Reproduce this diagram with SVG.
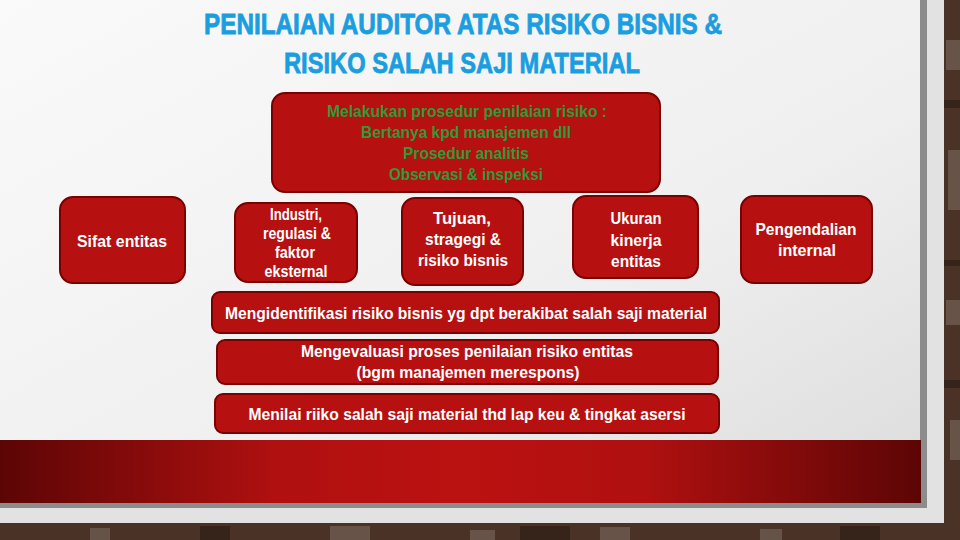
<svg xmlns="http://www.w3.org/2000/svg" width="960" height="540" viewBox="0 0 960 540">
<defs>
<linearGradient id="bg" x1="0" y1="0" x2="1" y2="1">
<stop offset="0" stop-color="#fafafa"/>
<stop offset="0.6" stop-color="#efefef"/>
<stop offset="1" stop-color="#dcdcdc"/>
</linearGradient>
<linearGradient id="band" x1="0" y1="0" x2="1" y2="0">
<stop offset="0" stop-color="#5c0505"/>
<stop offset="0.3" stop-color="#b01010"/>
<stop offset="0.5" stop-color="#bb1111"/>
<stop offset="0.7" stop-color="#b01010"/>
<stop offset="1" stop-color="#5c0505"/>
</linearGradient>
<style>
.box{fill:#b71010;stroke:#780000;stroke-width:2}
.t{font-family:"Liberation Sans Narrow","Liberation Sans",Arial,sans-serif;font-weight:bold;font-size:17px;fill:#ffffff;text-anchor:middle}
.g{fill:#2f9a3a}
.title{font-family:"Liberation Sans Narrow","Liberation Sans",Arial,sans-serif;font-weight:bold;font-size:29px;fill:#1a9ee0;stroke:#1a9ee0;stroke-width:0.8;text-anchor:start}
</style>
</defs>
<!-- brick background -->
<rect x="0" y="0" width="960" height="540" fill="#4a3226"/>
<g fill="#8a7c70" opacity="0.45">
<rect x="946" y="40" width="14" height="30"/>
<rect x="948" y="150" width="12" height="60"/>
<rect x="946" y="300" width="14" height="25"/>
<rect x="950" y="420" width="10" height="40"/>
<rect x="90" y="528" width="20" height="12"/>
<rect x="330" y="526" width="40" height="14"/>
<rect x="470" y="530" width="25" height="10"/>
<rect x="600" y="527" width="30" height="13"/>
<rect x="760" y="529" width="22" height="11"/>
</g>
<g fill="#2a1a12" opacity="0.6">
<rect x="944" y="100" width="16" height="8"/>
<rect x="944" y="260" width="16" height="6"/>
<rect x="944" y="380" width="16" height="8"/>
<rect x="200" y="526" width="30" height="14"/>
<rect x="520" y="526" width="50" height="14"/>
<rect x="840" y="526" width="40" height="14"/>
</g>
<!-- outer panel -->
<rect x="0" y="0" width="944" height="523" fill="#e2e2e2"/>
<!-- shadow -->
<rect x="0" y="0" width="927" height="508" fill="#8c8c8c"/>
<!-- slide -->
<rect x="0" y="0" width="920" height="503" fill="url(#bg)"/>
<!-- bottom red band -->
<rect x="0" y="440" width="921" height="63" fill="url(#band)"/>

<!-- title -->
<text class="title" x="204" y="34" textLength="518" lengthAdjust="spacingAndGlyphs">PENILAIAN AUDITOR ATAS RISIKO BISNIS &amp;</text>
<text class="title" x="284" y="73" textLength="356" lengthAdjust="spacingAndGlyphs">RISIKO SALAH SAJI MATERIAL</text>

<g id="node-prosedur">
<rect class="box" x="272" y="93" width="388" height="99" rx="13" stroke-width="3"/>
<text class="t g" x="467" y="117" textLength="280" lengthAdjust="spacingAndGlyphs">Melakukan prosedur penilaian risiko :</text>
<text class="t g" x="466" y="138" textLength="210" lengthAdjust="spacingAndGlyphs">Bertanya kpd manajemen dll</text>
<text class="t g" x="466" y="159" textLength="126" lengthAdjust="spacingAndGlyphs">Prosedur analitis</text>
<text class="t g" x="466" y="180" textLength="154" lengthAdjust="spacingAndGlyphs">Observasi &amp; inspeksi</text>
</g>

<g id="node-sifat">
<rect class="box" x="60" y="197" width="125" height="86" rx="13"/>
<text class="t" x="122" y="247" textLength="90" lengthAdjust="spacingAndGlyphs">Sifat entitas</text>
</g>

<g id="node-industri">
<rect class="box" x="235" y="203" width="122" height="79" rx="13"/>
<text class="t" x="296" y="220" textLength="52" lengthAdjust="spacingAndGlyphs">Industri,</text>
<text class="t" x="297" y="239" textLength="68" lengthAdjust="spacingAndGlyphs">regulasi &amp;</text>
<text class="t" x="295" y="258" textLength="40" lengthAdjust="spacingAndGlyphs">faktor</text>
<text class="t" x="296" y="277" textLength="63" lengthAdjust="spacingAndGlyphs">eksternal</text>
</g>

<g id="node-tujuan">
<rect class="box" x="402" y="198" width="121" height="87" rx="13"/>
<text class="t" x="462" y="224" textLength="58" lengthAdjust="spacingAndGlyphs">Tujuan,</text>
<text class="t" x="463" y="245" textLength="76" lengthAdjust="spacingAndGlyphs">stragegi &amp;</text>
<text class="t" x="463" y="266" textLength="90" lengthAdjust="spacingAndGlyphs">risiko bisnis</text>
</g>

<g id="node-ukuran">
<rect class="box" x="573" y="196" width="125" height="82" rx="13"/>
<text class="t" x="636" y="224" textLength="51" lengthAdjust="spacingAndGlyphs">Ukuran</text>
<text class="t" x="636" y="246" textLength="51" lengthAdjust="spacingAndGlyphs">kinerja</text>
<text class="t" x="636" y="267" textLength="50" lengthAdjust="spacingAndGlyphs">entitas</text>
</g>

<g id="node-pengendalian">
<rect class="box" x="741" y="196" width="131" height="87" rx="13"/>
<text class="t" x="806" y="235" textLength="101" lengthAdjust="spacingAndGlyphs">Pengendalian</text>
<text class="t" x="807" y="256" textLength="58" lengthAdjust="spacingAndGlyphs">internal</text>
</g>

<g id="node-identifikasi">
<rect class="box" x="212" y="292" width="507" height="41" rx="8"/>
<text class="t" x="466" y="319" textLength="482" lengthAdjust="spacingAndGlyphs">Mengidentifikasi risiko bisnis yg dpt berakibat salah saji material</text>
</g>

<g id="node-evaluasi">
<rect class="box" x="217" y="340" width="501" height="44" rx="8"/>
<text class="t" x="467" y="357" textLength="332" lengthAdjust="spacingAndGlyphs">Mengevaluasi proses penilaian risiko entitas</text>
<text class="t" x="468" y="378" textLength="223" lengthAdjust="spacingAndGlyphs">(bgm manajemen merespons)</text>
</g>

<g id="node-menilai">
<rect class="box" x="215" y="394" width="504" height="39" rx="8"/>
<text class="t" x="467" y="420" textLength="437" lengthAdjust="spacingAndGlyphs">Menilai riiko salah saji material thd lap keu &amp; tingkat asersi</text>
</g>

<g id="connectors"></g>
</svg>
